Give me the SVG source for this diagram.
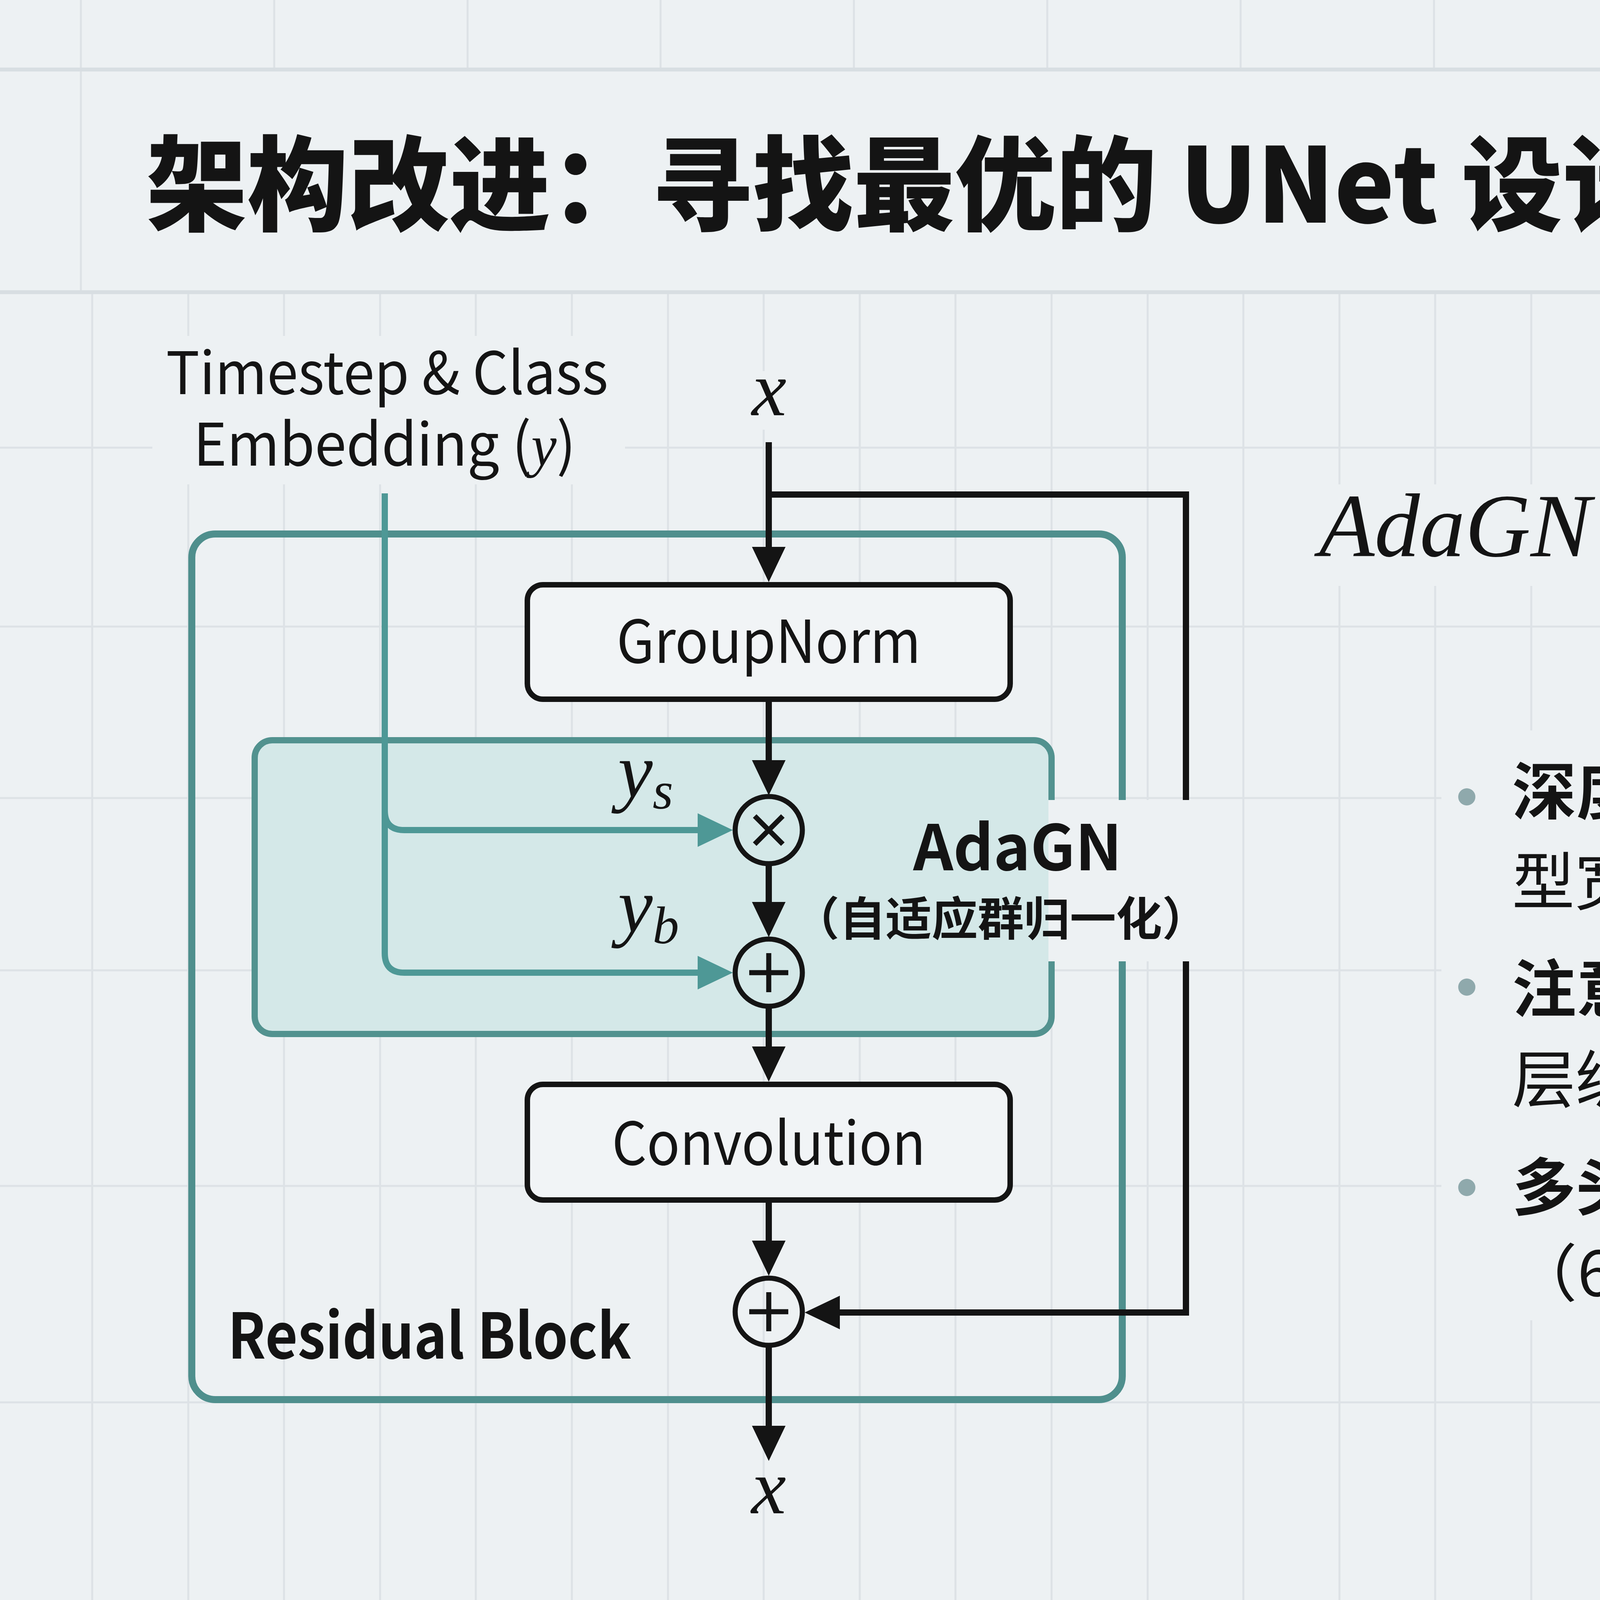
<svg xmlns="http://www.w3.org/2000/svg" width="7339" height="4096" viewBox="0 0 7339 4096">
<style>
.sans{font-family:'Noto Sans CJK SC','Noto Sans',sans-serif;fill:#141414}
.math{font-family:'Liberation Serif','DejaVu Serif',serif;font-style:italic;fill:#141414}
.up{font-family:'Liberation Serif','DejaVu Serif',serif;font-style:normal;fill:#141414}
.grid{stroke:#dde2e6;stroke-width:5;fill:none}
.gridMajor{stroke:#d8dee2;stroke-width:10;fill:none}
.mask{fill:#edf1f3}
.box{fill:#f1f4f6;stroke:#141414;stroke-width:14}
.op{fill:none;stroke:#141414;stroke-width:13}
.flow{fill:none;stroke:#141414;stroke-width:16}
.emb{fill:none;stroke:#4e9896;stroke-width:16}
.teal{fill:none;stroke:#4f8f8d;stroke-width:18}
</style>
<defs>
<marker id="arrowBlack" markerUnits="userSpaceOnUse" markerWidth="90" markerHeight="86" refX="50" refY="43" orient="auto">
<path d="M0,0 L90,43 L0,86 z" fill="#141414"/>
</marker>
<marker id="arrowTeal" markerUnits="userSpaceOnUse" markerWidth="90" markerHeight="86" refX="50" refY="43" orient="auto">
<path d="M0,0 L90,43 L0,86 z" fill="#4e9896"/>
</marker>
</defs>

<g id="background">
<rect x="0" y="0" width="7339" height="4096" fill="#edf1f3"/>
<path class="grid" d="M207,0V748M702,0V178M1197,0V178M1691,0V178M2186,0V178M2681,0V178M3176,0V178M3671,0V178M4165,0V178M4660,0V178M5155,0V178M5650,0V178M6145,0V178M6639,0V178M7134,0V4096"/>
<path class="grid" d="M236,748V4096M482,748V4096M727,748V4096M973,748V4096M1218,748V4096M1464,748V4096M1710,748V4096M1955,748V4096M2201,748V4096M2446,748V4096M2692,748V4096M2938,748V4096M3183,748V4096M3429,748V4096M3674,748V4096M3920,748V4096M4166,748V4096M4411,748V4096M4657,748V4096M4902,748V4096M5148,748V4096M5394,748V4096M5639,748V4096M5885,748V4096M6130,748V4096M6376,748V4096M6622,748V4096M6867,748V4096M7113,748V4096"/>
<path class="grid" d="M0,1146H7339M0,1604H7339M0,2043H7339M0,2484H7339M0,3036H7339M0,3590H7339"/>
<path class="gridMajor" d="M0,178H7339M0,748H7339"/>
<rect class="mask" x="390" y="860" width="1210" height="380"/>
<rect class="mask" x="1900" y="950" width="140" height="150"/>
<rect class="mask" x="3330" y="1240" width="3680" height="260"/>
<rect class="mask" x="3690" y="1870" width="3290" height="1510"/>
</g>

<g id="title">
<text class="sans" x="374" y="570" font-size="265" font-weight="900" textLength="3885" lengthAdjust="spacingAndGlyphs">架构改进：寻找最优的 UNet 设计</text>
</g>

<g id="residual-block">
<rect x="491" y="1367" width="2382" height="2216" rx="60" fill="#eff3f5" class="teal"/>
</g>

<g id="adagn">
<rect x="652" y="1895" width="2040" height="752" rx="45" fill="#d4e8e8" stroke="#52928f" stroke-width="16"/>
</g>

<rect class="mask" x="2684" y="2048" width="392" height="413"/>

<g id="connectors">
<path class="flow" d="M1968,1132V1450" marker-end="url(#arrowBlack)"/>
<path class="flow" d="M1968,1790V1996" marker-end="url(#arrowBlack)"/>
<path class="flow" d="M1968,2211V2359" marker-end="url(#arrowBlack)"/>
<path class="flow" d="M1968,2576V2729" marker-end="url(#arrowBlack)"/>
<path class="flow" d="M1968,3072V3226" marker-end="url(#arrowBlack)"/>
<path class="flow" d="M1968,3444V3700" marker-end="url(#arrowBlack)"/>
<path class="flow" d="M1968,1266H3036V2048"/>
<path class="flow" d="M3036,2461V3360H2100" marker-end="url(#arrowBlack)"/>
<path class="emb" d="M985,1263V2440Q985,2490 1035,2490H1836" marker-end="url(#arrowTeal)"/>
<path class="emb" d="M985,2075Q985,2125 1035,2125H1836" marker-end="url(#arrowTeal)"/>
</g>

<g id="groupnorm">
<rect class="box" x="1350" y="1497" width="1236" height="293" rx="40"/>
<text class="sans" x="1968" y="1697" font-size="152" text-anchor="middle" textLength="779" lengthAdjust="spacingAndGlyphs">GroupNorm</text>
</g>

<g id="multiply">
<circle class="op" cx="1968" cy="2125" r="86" fill="#d4e8e8"/>
<path class="op" d="M1932,2089L2004,2161M2004,2089L1932,2161"/>
</g>

<g id="add-adagn">
<circle class="op" cx="1968" cy="2490" r="86" fill="#d4e8e8"/>
<path class="op" d="M1968,2440V2540M1918,2490H2018"/>
</g>

<g id="convolution">
<rect class="box" x="1350" y="2776" width="1236" height="296" rx="40"/>
<text class="sans" x="1968" y="2982" font-size="152" text-anchor="middle" textLength="803" lengthAdjust="spacingAndGlyphs">Convolution</text>
</g>

<g id="add-residual">
<circle class="op" cx="1968" cy="3358" r="86" fill="#eff3f5"/>
<path class="op" d="M1968,3308V3408M1918,3358H2018"/>
</g>

<g id="labels">
<text class="sans" x="425" y="1009" font-size="150" textLength="1132" lengthAdjust="spacingAndGlyphs">Timestep &amp; Class</text>
<text class="sans" x="495" y="1192" font-size="150" textLength="979" lengthAdjust="spacingAndGlyphs">Embedding (<tspan class="math">y</tspan>)</text>
<text class="math" x="1969" y="1063" font-size="200" text-anchor="middle">x</text>
<text class="math" x="1968" y="3874" font-size="200" text-anchor="middle">x</text>
<text class="math" x="1582" y="2040" font-size="200">y<tspan font-size="135" dy="30">s</tspan></text>
<text class="math" x="1582" y="2385" font-size="200">y<tspan font-size="135" dy="30">b</tspan></text>
<text class="sans" x="2605" y="2228" font-size="160" font-weight="700" text-anchor="middle">AdaGN</text>
<text class="sans" x="2562" y="2395" font-size="118" font-weight="700" text-anchor="middle">（自适应群归一化）</text>
<text class="sans" x="583" y="3478" font-size="160" font-weight="700" textLength="1033" lengthAdjust="spacingAndGlyphs">Residual Block</text>
</g>

<g id="formula" font-size="230">
<text class="math" x="3377" y="1424" textLength="696" lengthAdjust="spacingAndGlyphs">AdaGN</text>
<text class="up" x="4092" y="1424">(</text>
<text class="math" x="4160" y="1424">h</text>
<text class="up" x="4280" y="1424">,</text>
<text class="math" x="4355" y="1424">y</text>
<text class="up" x="4470" y="1424">)</text>
<text class="up" x="4614" y="1424">=</text>
<text class="math" x="4820" y="1424">y</text>
<text class="math" x="4945" y="1462" font-size="160">s</text>
<text class="up" x="5050" y="1424">·</text>
<text class="math" x="5156" y="1424" textLength="1082" lengthAdjust="spacingAndGlyphs">GroupNorm</text>
<text class="up" x="6262" y="1424">(</text>
<text class="math" x="6335" y="1424">h</text>
<text class="up" x="6460" y="1424">)</text>
<text class="up" x="6590" y="1424">+</text>
<text class="math" x="6780" y="1424">y</text>
<text class="math" x="6881" y="1462" font-size="160">b</text>
</g>

<g id="bullets">
<circle cx="3755" cy="2040" r="22" fill="#8fa9ac"/>
<circle cx="3755" cy="2527" r="22" fill="#8fa9ac"/>
<circle cx="3755" cy="3040" r="22" fill="#8fa9ac"/>
<text class="sans" x="3871" y="2085" font-size="160" textLength="3020" lengthAdjust="spacingAndGlyphs"><tspan font-weight="700">深度 vs. 宽度</tspan>（Depth vs Width）：增加模</text>
<text class="sans" x="3871" y="2315" font-size="160">型宽比增加深度更有效。</text>
<text class="sans" x="3871" y="2590" font-size="160" textLength="2977" lengthAdjust="spacingAndGlyphs"><tspan font-weight="700">注意力机制（Attention）</tspan>：在更多分辨率</text>
<text class="sans" x="3871" y="2822" font-size="160" textLength="2656" lengthAdjust="spacingAndGlyphs">层级（32，16，8）使用 Attention。</text>
<text class="sans" x="3871" y="3098" font-size="160" textLength="2825" lengthAdjust="spacingAndGlyphs"><tspan font-weight="700">多头注意力</tspan>（Heads）：增加 Head 数量</text>
<text class="sans" x="3871" y="3318" font-size="160" textLength="2840" lengthAdjust="spacingAndGlyphs">（64 channels/head）显著提升 FID。</text>
</g>

<g id="watermarks">
<text x="6476" y="4050" font-size="92" font-family="'Liberation Sans','Noto Sans CJK SC',sans-serif" fill="#c6cbce" textLength="855" lengthAdjust="spacingAndGlyphs">CSDN @瑶光守护者</text>
<path d="M6784,4040 A26,26 0 0 1 6836,4040 M6796,4040 A14,14 0 0 1 6824,4040" fill="none" stroke="#222" stroke-width="9"/>
<text x="6848" y="4040" font-size="58" font-family="'Liberation Sans',sans-serif" fill="#222" textLength="430" lengthAdjust="spacingAndGlyphs">NotebookLM</text>
</g>
</svg>
